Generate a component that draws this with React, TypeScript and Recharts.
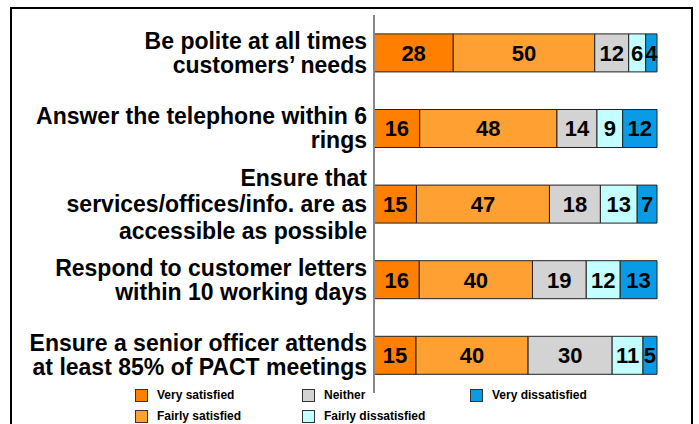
import React from 'react';
import { BarChart, Bar, XAxis, YAxis, LabelList } from 'recharts';

// Survey: satisfaction with service standards (%)
const categories = [
  'Be polite at all times\ncustomers\u2019 needs',
  'Answer the telephone within 6\nrings',
  'Ensure that\nservices/offices/info. are as\naccessible as possible',
  'Respond to customer letters\nwithin 10 working days',
  'Ensure a senior officer attends\nat least 85% of PACT meetings',
];
const verySatisfied = [28, 16, 15, 16, 15];
const fairlySatisfied = [50, 48, 47, 40, 40];
const neither = [12, 14, 18, 19, 30];
const fairlyDissatisfied = [6, 9, 13, 12, 11];
const veryDissatisfied = [4, 12, 7, 13, 5];

const series = [
  { key: 'vs', name: 'Very satisfied', color: '#FF8000' },
  { key: 'fs', name: 'Fairly satisfied', color: '#FFA033' },
  { key: 'ne', name: 'Neither', color: '#D3D3D3' },
  { key: 'fd', name: 'Fairly dissatisfied', color: '#C4FFFF' },
  { key: 'vd', name: 'Very dissatisfied', color: '#0A9BE6' },
];

const data = categories.map((name, i) => ({
  name,
  vs: verySatisfied[i],
  fs: fairlySatisfied[i],
  ne: neither[i],
  fd: fairlyDissatisfied[i],
  vd: veryDissatisfied[i],
}));

const FONT = '"Liberation Sans", Arial, sans-serif';

const CategoryTick = (props: any) => {
  const { x, y, payload } = props;
  const lines: string[] = String(payload.value).split('\n');
  const lh = lines.length > 2 ? 26.5 : 24;
  const y0 = y - ((lines.length - 1) * lh) / 2 + 8;
  return (
    <text x={x} y={y0} textAnchor="end" fontFamily={FONT} fontWeight="bold" fontSize={23} fill="#000">
      {lines.map((l, i) => (
        <tspan key={i} x={x} y={y0 + i * lh}>{l}</tspan>
      ))}
    </text>
  );
};

// legend laid out column by column like the original
const legendPos = [
  { left: 135, top: 388 },
  { left: 135, top: 409 },
  { left: 302, top: 388 },
  { left: 302, top: 409 },
  { left: 470, top: 388 },
];

export default function App() {
  return (
    <div style={{ position: 'absolute', left: 0, top: 0, width: 699, height: 424, overflow: 'hidden', background: '#fff', fontFamily: FONT }}>
      <div style={{ position: 'absolute', left: 10, top: 7, width: 683, height: 440, border: '2px solid #000', boxSizing: 'border-box' }} />
      <div style={{ position: 'absolute', left: 0, top: 0 }}>
        <BarChart
          width={699}
          height={424}
          data={data}
          layout="vertical"
          stackOffset="expand"
          barCategoryGap="25%"
          margin={{ top: 15, right: 42, bottom: 31, left: 0 }}
        >
          <XAxis type="number" hide domain={[0, 1]} />
          <YAxis
            type="category"
            dataKey="name"
            width={374}
            axisLine={{ stroke: '#888', strokeWidth: 2 }}
            tickLine={false}
            tickSize={0}
            tickMargin={7}
            tick={<CategoryTick />}
            interval={0}
          />
          {series.map((s) => (
            <Bar key={s.key} dataKey={s.key} name={s.name} stackId="a" fill={s.color} stroke="#222" strokeWidth={1} isAnimationActive={false}>
              <LabelList dataKey={s.key} position="center" fill="#000" fontSize={22} fontWeight="bold" fontFamily={FONT} />
            </Bar>
          ))}
        </BarChart>
      </div>
      {series.map((s, i) => (
        <div key={s.key} style={{ position: 'absolute', left: legendPos[i].left, top: legendPos[i].top, display: 'flex', alignItems: 'center', height: 14 }}>
          <div style={{ width: 13, height: 13, background: s.color, border: '1px solid #333', boxSizing: 'border-box' }} />
          <span style={{ marginLeft: 9, fontSize: 12, fontWeight: 'bold', color: '#000', whiteSpace: 'nowrap' }}>{s.name}</span>
        </div>
      ))}
    </div>
  );
}
